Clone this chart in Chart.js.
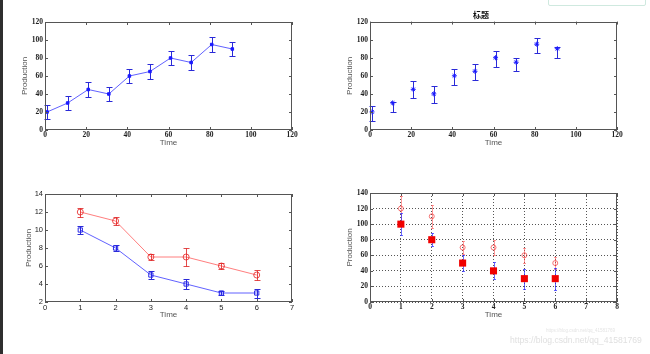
<!DOCTYPE html>
<html>
<head>
<meta charset="utf-8">
<script src="https://cdn.jsdelivr.net/npm/chart.js@4.4.0/dist/chart.umd.min.js"></script>
<style>
  body { margin: 0; width: 650px; height: 354px; background: #fff; position: relative; overflow: hidden; }
  .plot { position: absolute; width: 325px; height: 177px; }
  #edge { position: absolute; left: 0; top: 0; width: 3px; height: 354px; background: #2e2e2e; }
  #toolbar { position: absolute; left: 548px; top: -7px; width: 96px; height: 11px; border: 1px solid #cfe9df; border-radius: 2px; background: #fff; }
  #wm1 { position: absolute; left: 546px; top: 328px; font: 4.5px 'Liberation Sans', sans-serif; color: #e4e4e4; white-space: nowrap; }
  #wm2 { position: absolute; left: 510px; top: 335px; font: 8.6px 'Liberation Sans', sans-serif; color: #e0e0e0; white-space: nowrap; }
</style>
</head>
<body>
<div id="edge"></div>
<div id="toolbar"></div>
<canvas id="p1" class="plot" style="left:0;top:0"></canvas>
<canvas id="p2" class="plot" style="left:325px;top:0"></canvas>
<canvas id="p3" class="plot" style="left:0;top:177px"></canvas>
<canvas id="p4" class="plot" style="left:325px;top:177px"></canvas>
<div id="wm1">https://blog.csdn.net/qq_41581769</div>
<div id="wm2">https://blog.csdn.net/qq_41581769</div>
<script>
// top row: same series, symmetric vs asymmetric error bars
const timeTop = [1, 11, 21, 31, 41, 51, 61, 71, 81, 91];
const prodTop = [20, 30, 45, 40, 60, 65, 80, 75, 95, 90];
const errSym = [8, 8, 8, 8, 8, 8, 8, 8, 8, 8];
const errLowB = [10, 10, 10, 10, 10, 10, 10, 10, 10, 10];
const errHighB = [7, 1, 9, 9, 7, 8, 8, 5, 7, 2];

// bottom row
const timeBot = [1, 2, 3, 4, 5, 6];
const redC = [12, 11, 7, 7, 6, 5];
const redErrC = [0.5, 0.4, 0.3, 1, 0.3, 0.5];
const blueC = [10, 8, 5, 4, 3, 3];
const blueErrC = [0.4, 0.3, 0.4, 0.6, 0.25, 0.5];
const redD = [120, 110, 70, 70, 60, 50];
const redErrD = [16, 15, 8, 10, 10, 8];
const blueD = [100, 80, 50, 40, 30, 30];
const blueErrD = [14, 8.5, 10, 11, 13, 14];

// axis ranges [min, max, step]
const xTop = [0, 120, 20], yTop = [0, 120, 20];
const xC = [0, 7, 1], yC = [2, 14, 2];
const xD = [0, 8, 1], yD = [0, 140, 20];

const BLUE = 'rgba(30,30,255,0.7)';
const BLUE_ERR = '#2a2ad8';
const RED = 'rgba(255,40,40,0.6)';

const pts = (xs, ys) => xs.map((x, i) => ({ x: x, y: ys[i] }));

// vertical error bars with caps
const errorBars = {
  id: 'errorBars',
  beforeDatasetsDraw(chart) {
    const { ctx, scales: { x, y } } = chart;
    chart.data.datasets.forEach(ds => {
      if (!ds.errLow) return;
      ctx.save();
      ctx.strokeStyle = ds.errColor || ds.borderColor;
      ctx.lineWidth = 1;
      const cap = ds.cap || 3;
      ds.data.forEach((p, i) => {
        const px = Math.round(x.getPixelForValue(p.x)) + 0.5;
        const top = Math.round(y.getPixelForValue(p.y + ds.errHigh[i])) + 0.5;
        const bot = Math.round(y.getPixelForValue(p.y - ds.errLow[i])) + 0.5;
        ctx.beginPath();
        ctx.moveTo(px, top); ctx.lineTo(px, bot);
        ctx.moveTo(px - cap, top); ctx.lineTo(px + cap, top);
        ctx.moveTo(px - cap, bot); ctx.lineTo(px + cap, bot);
        ctx.stroke();
      });
      ctx.restore();
    });
  }
};

// matlab style box with inward ticks
const matlabBox = {
  id: 'matlabBox',
  afterDatasetsDraw(chart) {
    const { ctx, chartArea: a, scales: { x, y } } = chart;
    ctx.save();
    ctx.strokeStyle = '#555';
    ctx.lineWidth = 1;
    ctx.strokeRect(Math.round(a.left) + 0.5, Math.round(a.top) + 0.5, Math.round(a.width) - 1, Math.round(a.height) - 1);
    ctx.beginPath();
    x.ticks.forEach(t => {
      const px = Math.round(x.getPixelForValue(t.value)) + 0.5;
      ctx.moveTo(px, a.bottom); ctx.lineTo(px, a.bottom - 3);
      ctx.moveTo(px, a.top); ctx.lineTo(px, a.top + 3);
    });
    y.ticks.forEach(t => {
      const py = Math.round(y.getPixelForValue(t.value)) + 0.5;
      ctx.moveTo(a.left, py); ctx.lineTo(a.left + 3, py);
      ctx.moveTo(a.right, py); ctx.lineTo(a.right - 3, py);
    });
    ctx.stroke();
    ctx.restore();
  }
};

function axes(xr, yr, tickFont, yWidth, grid) {
  const g = grid
    ? { display: true, color: '#555', lineWidth: 1, drawTicks: false }
    : { display: false, drawTicks: false };
  const b = { display: false, dash: [1, 2] };
  const titleFont = { family: "'Liberation Sans', sans-serif", size: 8 };
  return {
    x: {
      type: 'linear', min: xr[0], max: xr[1],
      ticks: { stepSize: xr[2], padding: 1, font: tickFont, color: '#222', maxRotation: 0 },
      grid: g, border: b,
      title: { display: true, text: 'Time', font: titleFont, color: '#555', padding: 0 },
      afterFit(s) { s.height = 18; }
    },
    y: {
      min: yr[0], max: yr[1],
      ticks: { stepSize: yr[2], padding: 2, font: tickFont, color: '#222' },
      grid: g, border: b,
      title: { display: true, text: 'Production', font: titleFont, color: '#555', padding: 0 },
      afterFit(s) { s.width = yWidth; }
    }
  };
}

const serifTicks = { family: "'Liberation Serif', serif", size: 7.5, weight: 'bold' };
const sansTicks = { family: "'Liberation Sans', sans-serif", size: 7.5 };

function makeChart(id, datasets, scales, padding, title) {
  new Chart(document.getElementById(id), {
    type: 'line',
    data: { datasets: datasets },
    options: {
      responsive: false,
      animation: false,
      layout: { padding: padding },
      plugins: {
        legend: { display: false },
        tooltip: { enabled: false },
        title: title || { display: false }
      },
      scales: scales
    },
    plugins: [errorBars, matlabBox]
  });
}

// 1. symmetric error bars, connected line
makeChart('p1', [{
  data: pts(timeTop, prodTop),
  borderColor: BLUE, borderWidth: 1, errColor: BLUE_ERR,
  pointStyle: 'rect', pointRadius: 1.8, pointBackgroundColor: '#1a1aff', pointBorderColor: '#1a1aff',
  errLow: errSym, errHigh: errSym, cap: 3, clip: false
}], axes(xTop, yTop, serifTicks, 25, false), { left: 20, top: 22, right: 33, bottom: 14 });

// 2. asymmetric error bars, markers only, titled
makeChart('p2', [{
  data: pts(timeTop, prodTop),
  showLine: false, borderColor: BLUE_ERR, errColor: BLUE_ERR,
  pointStyle: 'star', pointRadius: 2.5, pointBorderWidth: 1, pointBorderColor: '#1a1aff', pointBackgroundColor: 'transparent',
  errLow: errLowB, errHigh: errHighB, cap: 3, clip: false
}], axes(xTop, yTop, serifTicks, 25, false), { left: 20, top: 0, right: 33, bottom: 14 },
{ display: true, text: '标题', color: '#111', font: { family: "'Noto Sans CJK SC', sans-serif", size: 8, weight: 'bold' }, padding: { top: 10, bottom: 2 } });

// 3. two series with lines
makeChart('p3', [{
  data: pts(timeBot, redC),
  borderColor: RED, borderWidth: 1, errColor: 'rgba(220,30,30,0.8)',
  pointStyle: 'circle', pointRadius: 3, pointBorderWidth: 1, pointBorderColor: 'rgba(230,30,30,0.8)', pointBackgroundColor: 'transparent',
  errLow: redErrC, errHigh: redErrC, cap: 3, clip: false
}, {
  data: pts(timeBot, blueC),
  borderColor: BLUE, borderWidth: 1, errColor: BLUE_ERR,
  pointStyle: 'rect', pointRadius: 3, pointBorderWidth: 1, pointBorderColor: '#2a2ae8', pointBackgroundColor: 'transparent',
  errLow: blueErrC, errHigh: blueErrC, cap: 3, clip: false
}], axes(xC, yC, sansTicks, 21, false), { left: 24, top: 17, right: 33, bottom: 19 });

// 4. gridded, markers only, big red squares
makeChart('p4', [{
  data: pts(timeBot, redD),
  showLine: false, borderColor: 'rgba(255,60,60,0.55)', errColor: 'rgba(255,70,70,0.55)',
  pointStyle: 'circle', pointRadius: 2.5, pointBorderWidth: 1, pointBorderColor: 'rgba(240,60,60,0.7)', pointBackgroundColor: 'transparent',
  errLow: redErrD, errHigh: redErrD, cap: 1.5, clip: false
}, {
  data: pts(timeBot, blueD),
  showLine: false, borderColor: 'rgba(40,40,255,0.7)', errColor: 'rgba(40,40,255,0.7)',
  pointStyle: 'rect', pointRadius: 5, pointBorderWidth: 0, pointBackgroundColor: '#f00000',
  errLow: blueErrD, errHigh: blueErrD, cap: 1.5, clip: false
}], axes(xD, yD, serifTicks, 25, true), { left: 20, top: 16, right: 33, bottom: 19 });
</script>
</body>
</html>
